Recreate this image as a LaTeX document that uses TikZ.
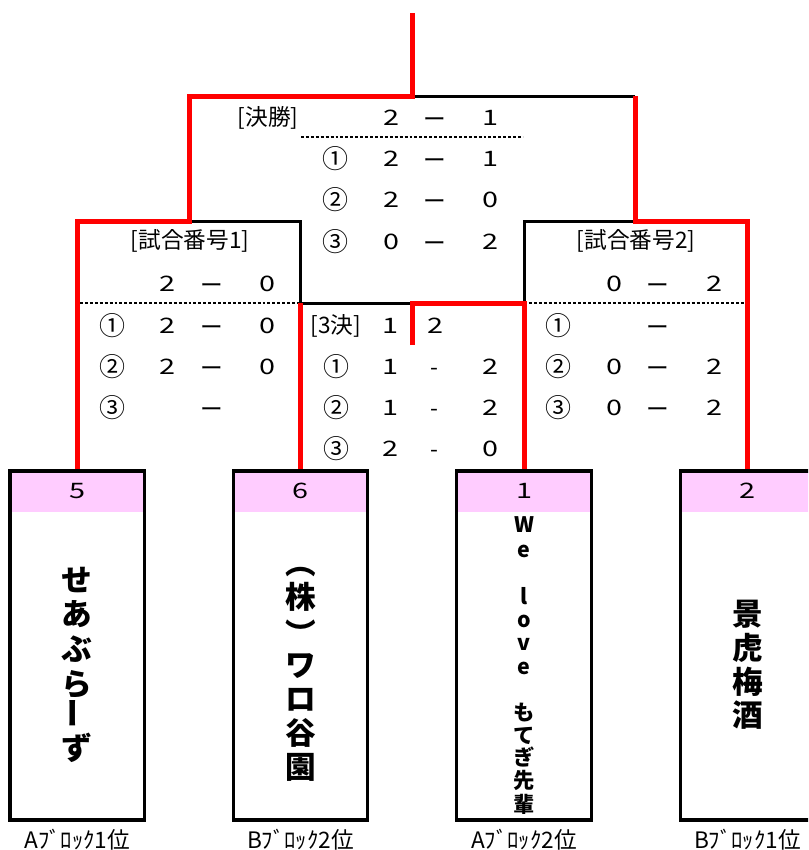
\documentclass[tikz,border=0pt]{standalone}
\usepackage{fontspec}
\usepackage{graphicx}
\setmainfont{Noto Sans CJK JP}
\newfontfamily\widefont[FakeStretch=1.35]{Noto Sans CJK JP}
\usetikzlibrary{calc}
\definecolor{wred}{RGB}{255,0,0}
\definecolor{hdrpink}{RGB}{255,204,255}
\begin{document}
\begin{tikzpicture}[x=0.75pt,y=-0.75pt,
  redpath/.style={draw=wred,line width=3.75pt},
  blackpath/.style={draw=black,line width=2.25pt},
  dotpath/.style={draw=black,line width=1.8pt,dash pattern=on 2.2pt off 1.5pt},
  teambox/.style={draw=black,line width=2.4pt,minimum width=100.9pt,minimum height=261.75pt,inner sep=0pt,
     path picture={\fill[hdrpink] (path picture bounding box.north west) rectangle ([yshift=-30.75pt]path picture bounding box.north east);}},
  txt/.style={inner sep=0pt,font=\fontsize{17}{20}\selectfont},
  dsh/.style={inner sep=0pt,font=\fontsize{17}{20}\selectfont},
  dig/.style={inner sep=0pt,font=\widefont\fontsize{16}{19}\selectfont},
  circ/.style={inner sep=0pt,font=\fontsize{19.5}{22}\selectfont},
  bigch/.style={inner sep=0pt,font=\bfseries\fontsize{23}{26}\selectfont},
  midch/.style={inner sep=0pt,font=\bfseries\fontsize{16}{19}\selectfont},
  foot/.style={inner sep=0pt,font=\fontsize{17}{19}\selectfont}]
\useasboundingbox (0,0) rectangle (808,850);
\clip (0,0) rectangle (808,850);

% team boxes
\node[teambox] (t5) at (77.25,645.5) {};
\node[teambox] (t6) at (300.5,645.5) {};
\node[teambox] (t1) at (524,645.5) {};
\node[teambox] (t2) at (747.5,645.5) {};

\node[dig] (h5) at (77.25,491) {5};
\node[dig] (h6) at (300.5,491) {6};
\node[dig] (h1) at (524,491) {1};
\node[dig] (h2) at (747.5,491) {2};

% bracket coordinates
\coordinate (top) at (412,13);
\coordinate (fL) at (189,96);
\coordinate (fM) at (412,96);
\coordinate (fR) at (635,96);
\coordinate (g1M) at (189,221);
\coordinate (g1R) at (300.5,221);
\coordinate (g1B) at (300.5,303);
\coordinate (g2L) at (524,221);
\coordinate (g2M) at (635,221);
\coordinate (g2B) at (524,303);
\coordinate (tM) at (412,303);
\coordinate (tHook) at (412,345);
\coordinate (d1s) at (80,303);
\coordinate (d2e) at (745,303);
\coordinate (dfs) at (301,137);
\coordinate (dfe) at (523,137);

% black lines
\draw[blackpath] (fM) -- (fR);
\draw[blackpath] (g1M) -- (g1R) -- (g1B);
\draw[blackpath] (g2B) -- (g2L) -- (g2M);
\draw[blackpath] (g1B) -- (tM);

% dotted lines
\draw[dotpath] (d1s) -- (g1B);
\draw[dotpath] (g2B) -- (d2e);
\draw[dotpath] (dfs) -- (dfe);

% red lines
\draw[redpath] (t5.north) |- (g1M) -- (fL) -| (top);
\draw[redpath] (fR) -- (g2M) -| (t2.north);
\draw[redpath] (g1B) -- (t6.north);
\draw[redpath] (tHook) -- (tM) -| (t1.north);

% final
\node[txt] (fhd) at (268,117.5) {[決勝]};
\node[dig] (fa0) at (391,117.5) {2};
\node[dsh] (fd0) at (435,122.5) {ー};
\node[dig] (fb0) at (490,117.5) {1};
\foreach \r/\yy/\cc/\aa/\bb in {1/159/①/2/1, 2/200/②/2/0, 3/241.5/③/0/2}{
  \node[circ] (fc\r) at (335,\yy) {\cc};
  \node[dig] (fa\r) at (391,\yy) {\aa};
  \node[dsh] (fd\r) at (435,\yy+5) {ー};
  \node[dig] (fb\r) at (490,\yy) {\bb};
}

% game 1
\node[txt] (ghd1) at (190,241) {[試合番号1]};
\foreach \r/\yy/\cc/\aa/\bb in {0/284/{}/2/0, 1/326/①/2/0, 2/367/②/2/0, 3/408/③/{}/{}}{
  \node[circ] (ac\r) at (112,\yy) {\cc};
  \node[dig] (aa\r) at (167,\yy) {\aa};
  \node[dsh] (ad\r) at (212,\yy+5) {ー};
  \node[dig] (ab\r) at (267,\yy) {\bb};
}

% game 2
\node[txt] (ghd2) at (636,241) {[試合番号2]};
\foreach \r/\yy/\cc/\aa/\bb in {0/284/{}/0/2, 1/326/①/{}/{}, 2/367/②/0/2, 3/408/③/0/2}{
  \node[circ] (bc\r) at (558,\yy) {\cc};
  \node[dig] (ba\r) at (614,\yy) {\aa};
  \node[dsh] (bd\r) at (658,\yy+5) {ー};
  \node[dig] (bb\r) at (714,\yy) {\bb};
}

% third place
\node[txt] (thd) at (336,326) {[3決]};
\node[dig] (ta0) at (390,326) {1};
\node[dig] (tb0) at (435,326) {2};
\foreach \r/\yy/\cc/\aa/\bb in {1/367/①/1/2, 2/408/②/1/2, 3/449/③/2/0}{
  \node[circ] (tc\r) at (336,\yy) {\cc};
  \node[dig] (ta\r) at (390,\yy) {\aa};
  \node[dsh] (td\r) at (434,\yy+5) {-};
  \node[dig] (tb\r) at (490,\yy) {\bb};
}

% team names
\foreach \ch/\yy [count=\i] in {せ/580,あ/614,ぶ/649,ら/684,{\rotatebox{90}{ー}}/713,ず/748}{
  \node[bigch] (n5c\i) at (77.25,\yy) {\ch};
}
\foreach \ch/\yy [count=\i] in {︵/572,株/597,︶/633,ワ/666,ロ/700,谷/733,園/767}{
  \node[bigch] (n6c\i) at (300.5,\yy) {\ch};
}
\foreach \ch/\yy [count=\i] in {W/525,e/551,l/596,o/621,v/644,e/668,も/712,て/736,ぎ/757,先/780,輩/804}{
  \node[midch] (n1c\i) at (524,\yy) {\ch};
}
\foreach \ch/\yy [count=\i] in {景/614,虎/648,梅/682,酒/715}{
  \node[bigch] (n2c\i) at (747.5,\yy) {\ch};
}

% footers
\node[foot] (f5) at (77.25,840) {Aﾌﾞﾛｯｸ1位};
\node[foot] (f6) at (300.5,840) {Bﾌﾞﾛｯｸ2位};
\node[foot] (f1) at (524,840) {Aﾌﾞﾛｯｸ2位};
\node[foot] (f2) at (747.5,840) {Bﾌﾞﾛｯｸ1位};
\end{tikzpicture}
\end{document}
